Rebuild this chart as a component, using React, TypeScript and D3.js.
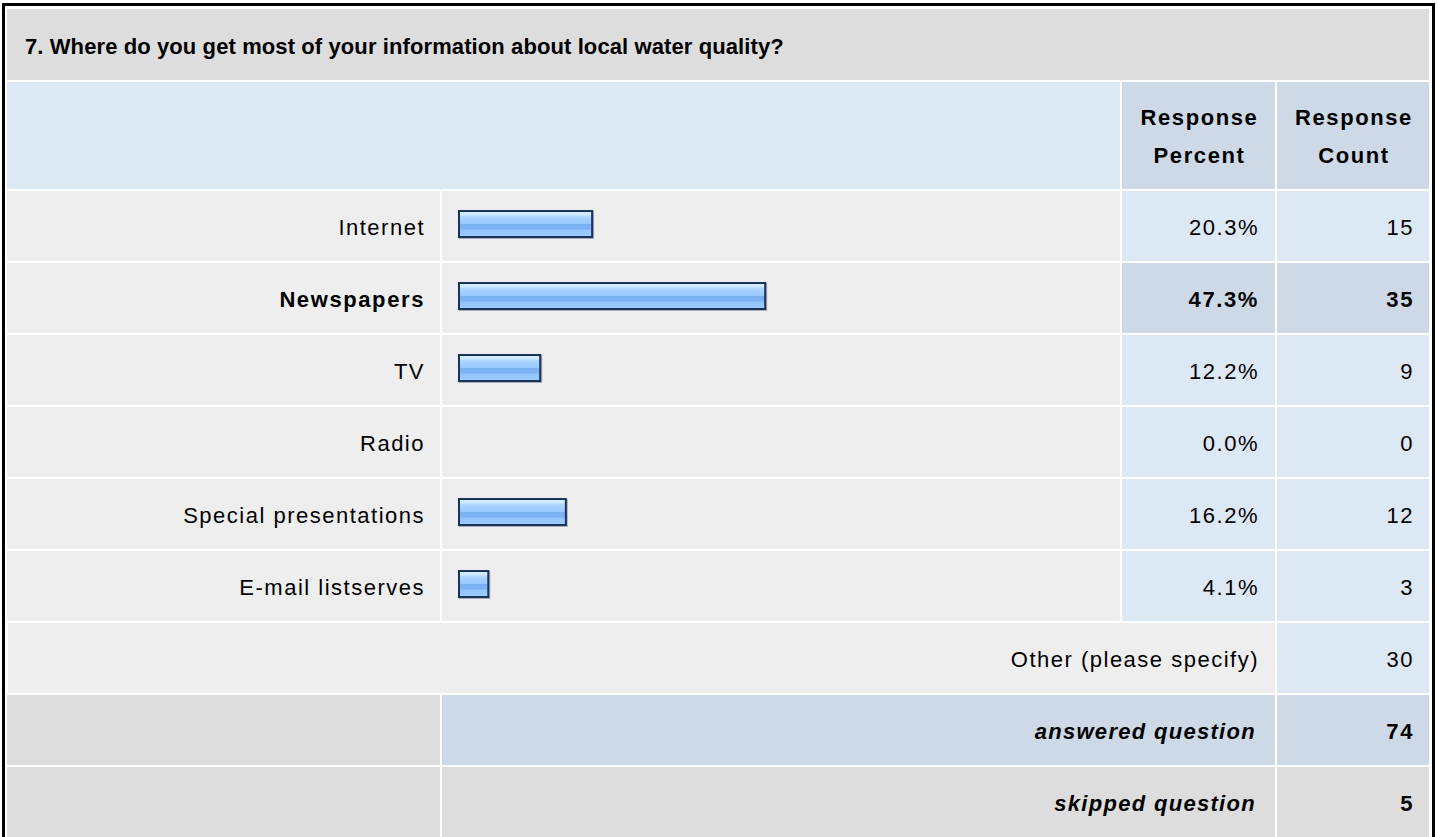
import React from "react";
import * as d3 from "d3";

const title = "7. Where do you get most of your information about local water quality?";
const headerPercent = ["Response", "Percent"];
const headerCount = ["Response", "Count"];
const categories = ["Internet", "Newspapers", "TV", "Radio", "Special presentations", "E-mail listserves"];
const percents = [20.3, 47.3, 12.2, 0.0, 16.2, 4.1];
const counts = [15, 35, 9, 0, 12, 3];
const otherLabel = "Other (please specify)";
const otherCount = 30;
const answeredLabel = "answered question";
const answeredCount = 74;
const skippedLabel = "skipped question";
const skippedCount = 5;

const FONT = "'Liberation Sans', Arial, Helvetica, sans-serif";

export default function App() {
  const W = 1438;
  const H = 837;
  // column edges
  const c0 = 7, c0e = 440;
  const c1 = 442, c1e = 1120;
  const c2 = 1122, c2e = 1275;
  const c3 = 1277, c3e = 1429;
  const rowH = 70;
  const rowY = d3.scaleLinear().domain([0, 1]).range([191, 263]);
  const barX = d3.scaleLinear().domain([0, 100]).range([0, 641]);
  const maxP = d3.max(percents) as number;

  const fs = 22;
  const ls = 1.5;
  const txt = (x: number, y: number, s: string | number, opts: any = {}) => (
    <text
      x={x}
      y={y}
      textAnchor={opts.anchor || "end"}
      dominantBaseline="central"
      fontFamily={FONT}
      fontSize={opts.size || fs}
      fontWeight={opts.bold ? "bold" : "normal"}
      fontStyle={opts.italic ? "italic" : "normal"}
      letterSpacing={opts.ls !== undefined ? opts.ls : opts.bold ? 1.6 : ls}
      fill="#000"
    >
      {s}
    </text>
  );

  const barTop = 19;
  const barH = 29;

  return (
    <svg width={W} height={H} style={{ position: "absolute", left: 0, top: 0 }}>
      <defs>
        <linearGradient id="barGrad" x1="0" y1="0" x2="0" y2="1">
          <stop offset="0" stopColor="#d2eaff" />
          <stop offset="0.14" stopColor="#d2eaff" />
          <stop offset="0.15" stopColor="#b3daff" />
          <stop offset="0.3" stopColor="#a3d0ff" />
          <stop offset="0.5" stopColor="#98c9ff" />
          <stop offset="0.52" stopColor="#7cb2f4" />
          <stop offset="0.72" stopColor="#7cb2f4" />
          <stop offset="0.74" stopColor="#93c6ff" />
          <stop offset="1" stopColor="#9ccdff" />
        </linearGradient>
      </defs>
      <rect x={0} y={0} width={W} height={H} fill="#fff" />
      {/* outer border */}
      <rect x={3.5} y={4.5} width={1430} height={H} fill="none" stroke="#000" strokeWidth={3} />

      {/* title row */}
      <rect x={c0} y={9} width={c3e - c0} height={71} fill="#dddddd" />
      {txt(25, 46, title, { anchor: "start", bold: true, size: 22, ls: 0.1 })}

      {/* header row */}
      <rect x={c0} y={82} width={c1e - c0} height={107} fill="#dde8f5" />
      <rect x={c2} y={82} width={c2e - c2} height={107} fill="#cdd9e6" />
      <rect x={c3} y={82} width={c3e - c3} height={107} fill="#cdd9e6" />
      {txt((c2 + c2e) / 2 + 1, 117, headerPercent[0], { anchor: "middle", bold: true })}
      {txt((c2 + c2e) / 2 + 1, 155, headerPercent[1], { anchor: "middle", bold: true })}
      {txt((c3 + c3e) / 2 + 1, 117, headerCount[0], { anchor: "middle", bold: true })}
      {txt((c3 + c3e) / 2 + 1, 155, headerCount[1], { anchor: "middle", bold: true })}

      {/* data rows */}
      {categories.map((cat, i) => {
        const y = rowY(i);
        const hi = percents[i] === maxP;
        const cellFill = hi ? "#cdd9e6" : "#dde8f5";
        const w = percents[i] > 0 ? 6 + barX(percents[i]) : 0;
        const bx = 458;
        const by = y + barTop;
        return (
          <g key={cat}>
            <rect x={c0} y={y} width={c0e - c0} height={rowH} fill="#eeeeee" />
            <rect x={c1} y={y} width={c1e - c1} height={rowH} fill="#eeeeee" />
            <rect x={c2} y={y} width={c2e - c2} height={rowH} fill={cellFill} />
            <rect x={c3} y={y} width={c3e - c3} height={rowH} fill={cellFill} />
            {txt(425, y + rowH / 2 + 1, cat, { bold: hi })}
            {txt(1259, y + rowH / 2 + 1, percents[i].toFixed(1) + "%", { bold: hi })}
            {txt(1414, y + rowH / 2 + 1, counts[i], { bold: hi })}
            {w > 0 && (
              <g>
                <rect x={bx + 1} y={by + 1} width={w - 1} height={barH - 1} fill="#8796ab" opacity={0.7} />
                <rect x={bx} y={by} width={w - 1} height={barH - 1} fill="#1b3358" />
                <rect x={bx + 2} y={by + 2} width={w - 5} height={barH - 5} fill="url(#barGrad)" />
              </g>
            )}
          </g>
        );
      })}

      {/* other row */}
      {(() => {
        const y = rowY(categories.length);
        return (
          <g>
            <rect x={c0 + 1} y={y} width={c2e - c0 - 1} height={rowH} fill="#eeeeee" />
            <rect x={c3} y={y} width={c3e - c3} height={rowH} fill="#dde8f5" />
            {txt(1259, y + rowH / 2 + 1, otherLabel)}
            {txt(1414, y + rowH / 2 + 1, otherCount)}
          </g>
        );
      })()}

      {/* answered row */}
      {(() => {
        const y = rowY(categories.length + 1);
        return (
          <g>
            <rect x={c0} y={y} width={c0e - c0} height={rowH} fill="#dddddd" />
            <rect x={c1} y={y} width={c2e - c1} height={rowH} fill="#cdd9e6" />
            <rect x={c3} y={y} width={c3e - c3} height={rowH} fill="#cdd9e6" />
            {txt(1256, y + rowH / 2 + 1, answeredLabel, { bold: true, italic: true, ls: 1.3 })}
            {txt(1414, y + rowH / 2 + 1, answeredCount, { bold: true })}
          </g>
        );
      })()}

      {/* skipped row */}
      {(() => {
        const y = rowY(categories.length + 2);
        return (
          <g>
            <rect x={c0} y={y} width={c0e - c0} height={rowH} fill="#dddddd" />
            <rect x={c1} y={y} width={c2e - c1} height={rowH} fill="#dddddd" />
            <rect x={c3} y={y} width={c3e - c3} height={rowH} fill="#dddddd" />
            {txt(1256, y + rowH / 2 + 1, skippedLabel, { bold: true, italic: true, ls: 1.3 })}
            {txt(1414, y + rowH / 2 + 1, skippedCount, { bold: true })}
          </g>
        );
      })()}
    </svg>
  );
}
